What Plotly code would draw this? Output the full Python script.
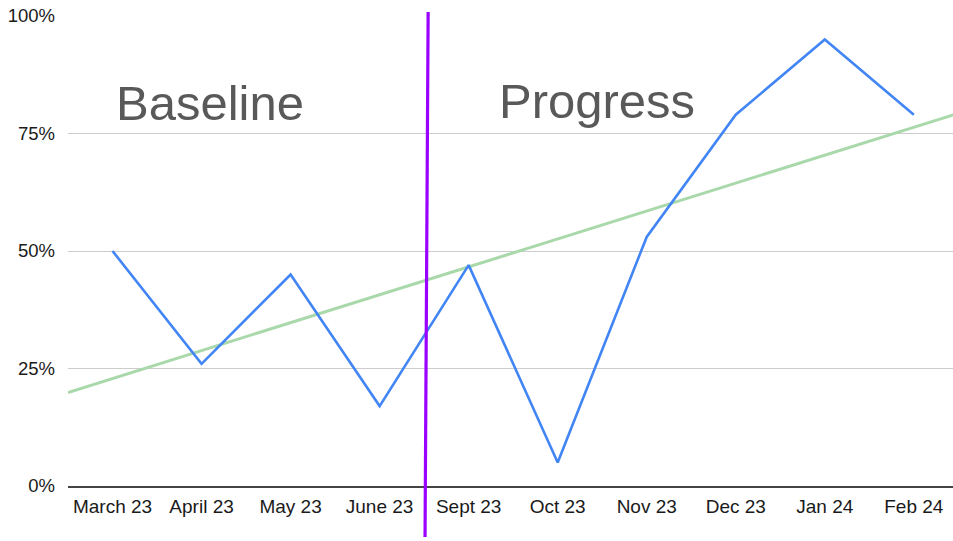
import numpy as np
import plotly.graph_objects as go

months = ["March 23", "April 23", "May 23", "June 23", "Sept 23",
          "Oct 23", "Nov 23", "Dec 23", "Jan 24", "Feb 24"]
scores = [50, 26, 45, 17, 47, 5, 53, 79, 95, 79]
y_ticks = [0, 25, 50, 75, 100]
y_tick_labels = ["0%", "25%", "50%", "75%", "100%"]

idx = np.arange(len(months))
slope, intercept = np.polyfit(idx, scores, 1)
trend_x = np.array([-0.5, len(months) - 0.5])
trend_y = slope * trend_x + intercept

FONT = "Arial, Liberation Sans, sans-serif"

fig = go.Figure()
fig.add_trace(go.Scatter(x=trend_x, y=trend_y, mode="lines",
                         line=dict(color="#a9d8aa", width=3),
                         hoverinfo="skip", showlegend=False))
fig.add_trace(go.Scatter(x=idx, y=scores, mode="lines",
                         line=dict(color="#4285f4", width=2.6),
                         showlegend=False))

# divider between baseline and progress periods
fig.add_shape(type="line", xref="x", yref="paper",
              x0=3.545, y0=1.0085, x1=3.51, y1=-0.1085,
              line=dict(color="#9900ff", width=3.2), layer="above")

fig.add_annotation(x=1.1, y=81.4, xref="x", yref="y", text="Baseline",
                   showarrow=False, font=dict(family=FONT, size=49, color="#595959"))
fig.add_annotation(x=5.44, y=82.0, xref="x", yref="y", text="Progress",
                   showarrow=False, font=dict(family=FONT, size=49, color="#595959"))

fig.update_layout(
    width=953, height=541,
    margin=dict(l=68, r=0, t=16, b=55),
    paper_bgcolor="white", plot_bgcolor="white",
    font=dict(family=FONT, color="#222222"),
    xaxis=dict(range=[-0.5, 9.44], tickmode="array", tickvals=list(idx),
               ticktext=months, showgrid=False, zeroline=False,
               showline=True, linecolor="#444444", linewidth=1.5,
               tickfont=dict(size=19, color="#1a1a1a"), ticklabelstandoff=2),
    yaxis=dict(range=[0, 100], tickmode="array", tickvals=y_ticks,
               ticktext=y_tick_labels,
               showgrid=True, gridcolor="#cccccc", gridwidth=1,
               zeroline=False, showline=False,
               tickfont=dict(size=18.5, color="#1a1a1a"), ticklabelstandoff=12),
)

fig.write_html("out.html", config={"displayModeBar": False},
               post_script="document.body.style.margin='0';document.body.style.overflow='hidden';")
